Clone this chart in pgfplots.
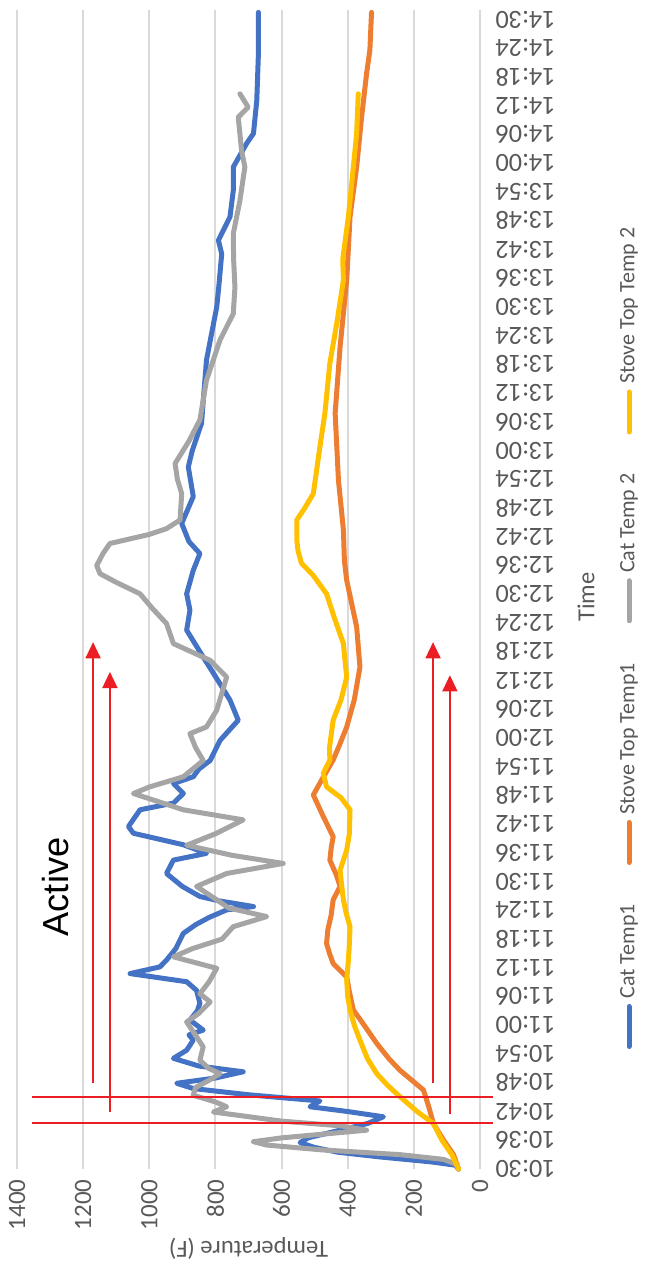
\documentclass[border=0pt]{standalone}
\usepackage{pgfplots}
\usepackage{pgfplotstable}
\pgfplotsset{compat=1.18}
\usetikzlibrary{arrows.meta}
\usepackage{fontspec}
\setmainfont{Carlito}
\newfontfamily\activefont{Liberation Sans}

\definecolor{catblue}{HTML}{4472C4}
\definecolor{stoveorange}{HTML}{ED7D31}
\definecolor{catgray}{HTML}{A5A5A5}
\definecolor{stoveyellow}{HTML}{FFC000}
\definecolor{gridgray}{HTML}{D9D9D9}
\definecolor{tickgray}{HTML}{595959}
\definecolor{annored}{RGB}{235,30,35}

% t = minutes after 10:30, T = temperature (F)
\pgfplotstableread{
t T
0 65
0.8 75
1.5 150
2.5 300
3.5 430
4.5 500
5.5 544
6.5 520
8 430
9.5 340
10.9 292
12 400
13 514
14.2 484
15.5 700
16.8 867
17.9 917
19 800
20.3 716
21.5 850
23.1 927
24.8 887
26.9 867
28 880
29 837
31.1 877
33 855
34.6 847
37.3 857
39.1 887
40.8 1058
42.2 968
43.6 948
46 920
49.2 897
51 860
52.5 820
54.1 766
54.8 685
56 790
56.9 847
59 900
61.7 948
64.5 927
65.9 827
67.7 897
70.1 1048
71.5 1063
75 1028
76.4 927
78.4 897
80.5 927
81.9 867
83.5 850
85.3 816
89.5 786
93.7 731
97.9 756
101.3 786
106.9 837
112.5 887
116.7 877
120.1 887
125 867
128.5 847
131 880
134.8 902
140.4 867
146.6 882
150 870
155.7 842
162 835
168.9 827
175 810
180 796
184.1 790
191.1 781
193.9 791
198.8 756
204.3 746
209.2 746
214.1 706
216.2 685
223.1 675
232.9 670
241.5 670
}\catone

\pgfplotstableread{
t T
0 65
3 80
6 110
9.5 141
13 155
16.5 171
20.6 242
23 275
26.2 312
30 350
33.2 383
37 395
40.1 403
42.9 444
45 455
47.1 464
50 460
53 450
56.2 444
59 423
61.5 435
64.5 454
67 450
69.4 444
73.6 474
78.1 504
81.2 479
85.4 444
88.5 425
92.3 403
98 380
104.8 363
113.2 373
122.9 403
127 410
133.4 413
143.8 428
157.8 438
171.7 423
185.6 403
198.8 393
209.2 373
219.6 358
228.7 343
233.6 333
241.5 328
}\stoveone

\pgfplotstableread{
t T
0 65
1 72
2 110
3 242
4 480
5 645
5.7 685
6.5 600
8.1 343
9 420
10 600
11.9 806
13 766
14 800
15.4 867
17 860
18.5 820
19.9 786
21 820
22.7 847
25.5 837
27.6 857
30.7 887
32.5 850
34.9 816
36.6 847
39 820
41.9 796
44.3 927
46 870
48 780
50.6 746
52.7 645
54.5 760
56.2 796
59 857
61.7 766
63.8 595
65.5 750
67.6 887
70 800
72.9 716
75 897
78.4 1048
79.8 998
81.9 897
85.3 837
88 860
90.9 877
92.3 827
95.8 796
102.7 766
106.2 816
109.7 927
113.9 948
117 990
120.1 1028
122.5 1100
124.3 1149
126 1159
128.5 1140
130.6 1119
132.5 1000
133.7 948
135.5 907
141 902
144 915
147.3 922
152 880
156.4 847
164.7 827
173.1 786
178.6 746
184.1 741
190 745
195.3 746
202.2 726
209.2 711
212.7 721
219.6 731
221.7 701
224.5 726
}\cattwo

\pgfplotstableread{
t T
0 65
3 85
6 115
9.5 141
12 190
15.1 242
17.5 280
19.9 312
23 340
26.9 363
30 380
33.2 393
36 400
39.4 403
43.6 398
47 395
50.6 393
53.5 405
56.2 413
59 418
62.4 423
66.6 403
70 395
75 393
77.5 420
79.8 464
82.6 474
85.4 454
88 455
93.7 444
98 420
102.7 403
106 408
109.7 413
115 440
120.1 464
124 505
126.5 540
129 550
131.3 554
135.5 554
138 530
141 504
150.8 484
157.8 469
168.2 454
176.6 433
185.6 413
190 415
198.8 398
209.2 383
216.2 373
224.5 368
}\stovetwo

\begin{document}
\begin{tikzpicture}
\begin{axis}[
  at={(6.8pt,42.4pt)}, anchor=south west,
  scale only axis, width=185.2pt, height=463.6pt,
  x dir=reverse,
  xmin=0, xmax=1400, ymin=0, ymax=242,
  axis line style={draw=none},
  major tick length=0pt,
  xtick={0,200,400,600,800,1000,1200,1400},
  xticklabels={0,200,400,600,800,1000,1200,1400},
  xmajorgrids,
  major grid style={draw=gridgray, line width=0.75pt},
  ytick={0,6,...,240},
  yticklabels={10:30,10:36,10:42,10:48,10:54,11:00,11:06,11:12,11:18,11:24,11:30,11:36,11:42,11:48,11:54,12:00,12:06,12:12,12:18,12:24,12:30,12:36,12:42,12:48,12:54,13:00,13:06,13:12,13:18,13:24,13:30,13:36,13:42,13:48,13:54,14:00,14:06,14:12,14:18,14:24,14:30},
  yticklabel pos=right,
  xticklabel style={rotate=90, anchor=east, text=tickgray, font=\fontsize{10}{12}\selectfont, inner xsep=4pt},
  yticklabel style={rotate=180, anchor=east, text=tickgray, font=\fontsize{10.5}{12}\selectfont, inner xsep=6pt, inner ysep=1pt},
  clip=false,
  every axis plot/.append style={line width=2pt, line join=round, line cap=round},
]
\addplot[catblue] table[x=T, y=t] {\catone};
\addplot[stoveorange] table[x=T, y=t] {\stoveone};
\addplot[catgray] table[x=T, y=t] {\cattwo};
\addplot[stoveyellow] table[x=T, y=t] {\stovetwo};

% red annotation lines
\draw[annored, line width=0.8pt] (axis cs:1355,15.0) -- (axis cs:-38,15.0);
\draw[annored, line width=0.8pt] (axis cs:1355,9.6) -- (axis cs:-38,9.6);
\draw[annored, line width=0.8pt, -{Triangle[width=6pt,length=6.5pt]}] (axis cs:1170,18) -- (axis cs:1170,110);
\draw[annored, line width=0.8pt, -{Triangle[width=6pt,length=6.5pt]}] (axis cs:1119,11.8) -- (axis cs:1119,103.8);
\draw[annored, line width=0.8pt, -{Triangle[width=6pt,length=6.5pt]}] (axis cs:142,18) -- (axis cs:142,110);
\draw[annored, line width=0.8pt, -{Triangle[width=6pt,length=6.5pt]}] (axis cs:91,11.5) -- (axis cs:91,103.1);
\end{axis}

% axis titles
\node[rotate=180, text=tickgray, font=\fontsize{9.8}{12}\selectfont] at (99.4pt,10.8pt) {Temperature (F)};
\node[rotate=90, text=tickgray, font=\fontsize{9.8}{12}\selectfont] at (234.4pt,271.2pt) {Time};

% annotation text
\node[rotate=90, font=\activefont\fontsize{14.5}{16}\selectfont] at (22.4pt,155.2pt) {Active};

% legend
\begin{scope}[font=\fontsize{8.8}{10}\selectfont, text=tickgray]
\draw[catblue, line width=2pt, line cap=round] (251.6pt,91.4pt) -- (251.6pt,107.4pt);
\node[rotate=90, anchor=west, inner sep=0pt] at (251.6pt,110.4pt) {Cat Temp1};
\draw[stoveorange, line width=2pt, line cap=round] (251.6pt,165pt) -- (251.6pt,181pt);
\node[rotate=90, anchor=west, inner sep=0pt] at (251.6pt,184pt) {Stove Top Temp1};
\draw[catgray, line width=2pt, line cap=round] (251.6pt,261.7pt) -- (251.6pt,277.7pt);
\node[rotate=90, anchor=west, inner sep=0pt] at (251.6pt,280.7pt) {Cat Temp 2};
\draw[stoveyellow, line width=2pt, line cap=round] (251.6pt,337.2pt) -- (251.6pt,353.2pt);
\node[rotate=90, anchor=west, inner sep=0pt] at (251.6pt,356.2pt) {Stove Top Temp 2};
\end{scope}

\pgfresetboundingbox
\path[use as bounding box] (0,0) rectangle (258pt,510pt);
\end{tikzpicture}
\end{document}
